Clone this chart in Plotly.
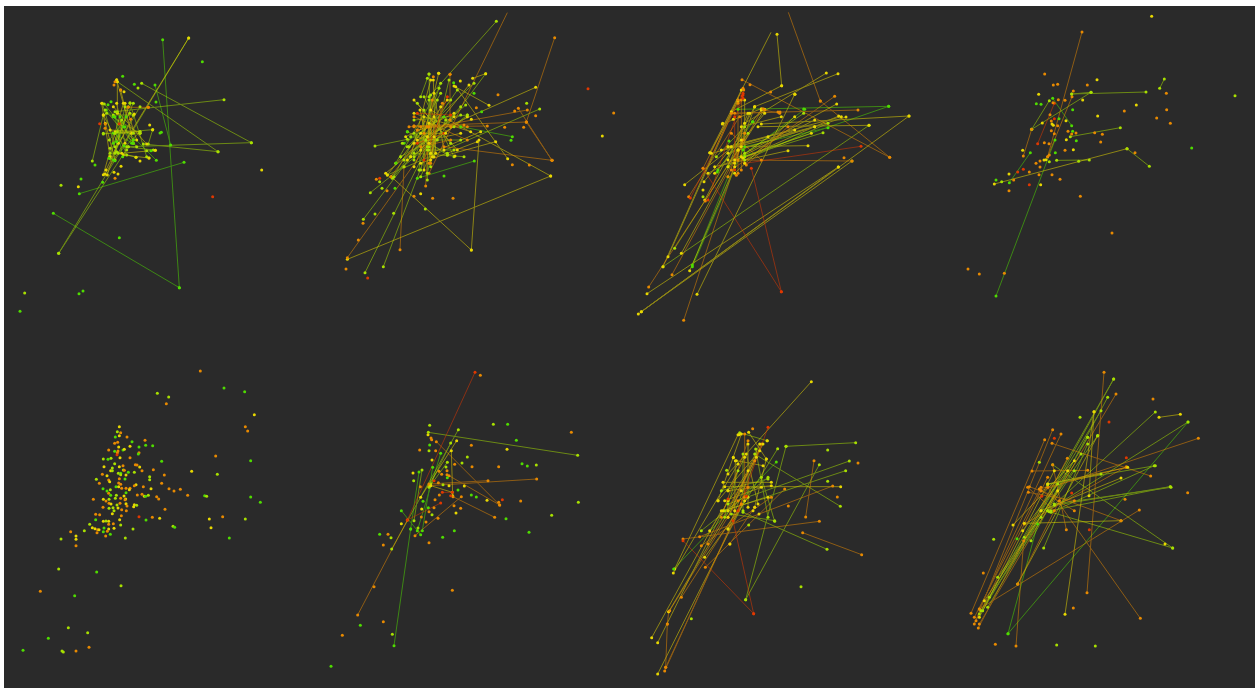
import plotly.graph_objects as go
from plotly.subplots import make_subplots

# Level of each point: 0 green, 1 lime, 2 yellow, 3 orange, 4 red
PALETTE = ["#4fdc00", "#a8e000", "#e8d800", "#e88a00", "#e03800"]
LINE_OPACITY = 0.52
BACKGROUND = "#2a2a2a"

# Segment ends with no dot (the line runs out of view in the picture)
OPEN_ENDS = {(580, 38), (481, 37), (429, 97)}

P1_DOTS = [(607,185,0),(785,510,2),(638,590,4),(358,713,0),(74,879,1),(249,873,0),(237,881,0),(60,934,0),(183,556,1),(235,560,2),(243,537,0),(285,495,0),(308,547,0),(345,535,3),(354,522,2),(342,517,2),(363,499,2),(368,229,0),(403,253,0),(342,255,3),(345,245,3),(350,239,2),(299,371,4),(358,371,4),(468,306,0),(480,399,0),(484,397,0),(449,375,2),(333,305,0),(324,314,0),(420,483,2),(447,474,2),(466,451,2),(458,389,2),(445,322,3),(403,342,2),(392,358,3),(414,264,1),(372,275,2),(362,270,3),(390,308,1),(310,345,2),(316,372,3),(315,385,3),(330,445,1),(327,475,0),(345,482,0),(408,472,2),(453,452,0),(440,452,1),(372,437,0),(400,420,0),(350,425,0),(375,380,0),(340,350,0),(352,335,1)]
P1_SEGS = [(488,119,538,863,0),(538,863,160,640,0),(566,114,176,760,1),(566,114,315,522,2),(176,760,385,440,1),(425,250,754,428,1),(352,245,654,455,1),(754,428,385,440,1),(654,455,430,432,1),(672,299,345,335,1),(552,487,238,581,0),(465,255,512,435,0),(277,483,310,345,1),(352,245,352,340,2),(350,240,395,400,2),(362,270,400,430,2),(307,310,345,440,1),(313,312,400,420,1),(319,330,469,481,0),(310,402,458,389,1),(345,395,420,400,2),(322,525,385,320,2),(310,524,370,310,2),(318,510,400,345,2),(316,370,345,480,2),(330,475,420,320,1),(365,460,466,451,2),(370,465,447,474,2),(350,455,408,472,1),(380,440,460,450,1),(445,432,458,389,1),(340,480,378,350,0),(345,350,368,470,0),(375,320,345,460,1),(375,310,410,420,2),(340,345,400,345,1),(330,390,420,395,2),(328,420,390,340,1),(352,395,380,465,1),(400,430,340,400,0),(360,350,395,430,0),(315,330,410,440,1),(330,470,365,360,1),(350,310,375,430,2),(385,322,445,322,3),(310,345,355,430,2),(355,460,420,395,1),(340,430,370,380,0),(305,310,330,470,2),(320,340,420,400,1),(330,460,400,310,1),(340,320,440,432,2),(390,310,440,470,1),(345,400,380,450,1),(310,400,400,400,1)]

P2_DOTS = [(822,266,4),(899,339,3),(865,408,2),(552,284,3),(638,310,1),(602,333,3),(665,347,3),(629,382,3),(572,382,3),(595,494,3),(646,495,3),(591,421,0),(390,528,0),(246,489,0),(187,538,3),(197,535,4),(197,545,1),(239,640,1),(183,642,1),(147,670,3),(133,720,3),(96,807,3),(161,834,4),(334,627,1),(356,595,3),(417,595,3),(320,581,2),(300,589,3),(204,565,1),(243,565,0),(219,572,3),(423,468,2),(503,335,0),(487,323,3),(480,280,0),(419,248,0),(439,243,2),(408,223,3),(358,230,3),(374,220,2),(345,222,1),(300,380,3),(280,395,0),(265,430,1),(260,470,1),(472,358,2)]
P2_SEGS = [(547,64,345,290,1),(580,38,345,520,3),(722,113,637,366,3),(637,366,714,481,3),(613,325,714,481,3),(714,481,390,440,3),(665,262,310,420,2),(677,327,220,525,1),(640,330,310,390,3),(637,366,300,378,3),(710,528,350,330,2),(710,528,100,778,2),(100,773,345,430,3),(472,750,495,420,2),(472,750,232,530,2),(258,749,270,500,3),(153,818,340,440,1),(208,800,345,440,1),(148,658,290,470,1),(169,578,460,345,1),(183,438,280,418,1),(595,410,440,380,0),(481,483,310,535,0),(515,221,345,450,1),(515,221,476,235,2),(581,476,425,260,2),(525,316,420,258,2),(335,558,345,380,3),(408,223,408,360,3),(320,290,340,235,1),(345,222,350,460,1),(374,220,320,450,2),(358,240,365,460,2),(380,250,300,480,1),(465,255,340,410,2),(480,250,280,440,1),(455,315,270,480,1),(410,300,240,530,1),(460,350,280,480,2),(410,345,310,340,4),(450,375,300,378,3),(520,378,320,380,3),(500,395,350,460,2),(545,425,400,465,2),(490,425,320,490,2),(470,395,300,340,2),(400,465,300,400,1),(350,285,350,500,1),(345,300,340,540,1),(360,350,355,470,2),(310,310,410,430,1),(318,330,350,480,2),(280,395,400,460,1),(285,440,440,345,1),(270,430,390,350,0),(260,470,420,380,1),(300,430,440,400,2),(330,350,330,510,2),(370,300,320,510,1),(385,310,345,490,3),(390,400,310,430,4),(410,420,320,440,3),(220,525,400,300,2),(235,535,380,280,1),(245,490,375,265,1),(300,360,460,345,1),(335,420,440,420,1),(345,370,345,430,2),(340,380,410,380,3),(320,400,395,400,2),(360,410,360,470,2),(340,450,420,450,1),(290,410,370,420,1),(315,510,330,330,1),(320,530,395,360,1),(350,490,355,300,3),(300,350,460,420,3),(380,320,300,500,2),(430,270,270,500,1),(350,240,290,470,2),(405,240,340,520,1),(330,290,420,470,1),(300,300,430,450,2),(285,380,460,380,3),(275,410,420,340,2),(400,290,330,480,4),(360,280,390,450,2),(440,320,300,470,1),(300,460,450,470,1),(230,530,330,400,3),(215,520,420,350,2)]

P3_DOTS = [(366,254,3),(428,276,3),(501,283,2),(648,473,3),(284,370,2),(316,358,2),(405,326,3),(456,336,3),(527,327,0),(303,423,0),(268,516,0),(325,526,3),(373,365,0),(345,295,4),(342,288,4),(225,570,2),(225,590,1),(232,603,3),(347,270,3),(330,310,3)]
P3_SEGS = [(481,37,577,303,3),(429,97,245,458,2),(447,103,461,257,2),(461,257,310,335,2),(577,303,785,472,3),(342,239,785,472,3),(782,319,330,328,0),(782,319,350,468,0),(843,348,400,372,2),(843,348,40,935,2),(672,483,40,935,2),(672,483,330,480,3),(631,501,57,881,2),(631,501,31,942,2),(699,439,350,490,4),(723,376,105,800,1),(723,376,390,380,2),(690,330,320,340,3),(654,351,300,460,2),(630,221,380,320,2),(595,219,350,370,2),(620,289,310,510,3),(626,312,240,520,2),(600,383,350,440,0),(585,398,350,470,1),(540,437,310,440,2),(480,452,260,500,2),(460,875,370,505,4),(460,875,225,505,4),(207,883,500,283,2),(167,961,345,420,3),(62,861,330,450,3),(105,800,340,270,2),(120,770,330,300,2),(132,824,400,330,3),(193,800,345,450,0),(193,795,300,530,0),(185,812,320,500,2),(170,554,340,420,2),(182,590,335,350,3),(187,594,345,280,4),(230,600,380,320,2),(228,545,400,330,2),(283,372,400,326,2),(246,458,330,305,2),(160,760,330,450,2),(140,745,360,400,1),(225,505,345,265,3),(240,600,345,285,4),(300,500,530,328,0),(350,460,527,340,1),(340,470,560,360,2),(345,475,632,348,2),(330,450,560,380,2),(350,480,600,370,1),(320,520,500,350,2),(355,495,480,380,3),(310,340,450,336,3),(340,440,410,328,2),(320,490,380,320,2),(300,480,360,340,2),(260,520,410,340,2),(270,510,375,365,0),(340,510,340,300,3),(330,300,330,520,3),(320,350,320,510,4),(350,300,350,490,2),(365,340,300,500,2),(280,450,420,410,2),(250,460,560,380,2),(300,440,640,350,2),(265,470,350,380,1),(340,380,460,350,2),(310,400,400,480,3),(350,400,300,530,3),(410,330,455,340,3),(300,440,500,390,2),(320,480,550,400,2)]

P4_DOTS = [(632,49,2),(882,287,1),(468,239,2),(311,222,3),(337,255,3),(350,253,3),(439,255,3),(397,273,3),(293,283,2),(676,280,3),(372,301,3),(352,299,3),(425,300,2),(286,311,0),(300,313,0),(336,308,3),(395,329,0),(586,315,2),(677,329,3),(550,333,3),(470,348,2),(327,344,3),(340,356,4),(354,356,0),(647,354,3),(688,370,3),(304,369,2),(331,363,3),(333,372,2),(337,376,2),(350,377,3),(375,362,2),(331,392,3),(340,401,3),(381,394,3),(395,394,0),(405,399,3),(392,402,3),(461,398,3),(484,403,3),(376,419,2),(406,422,0),(310,428,3),(324,431,3),(479,426,3),(245,451,2),(372,451,3),(397,449,2),(343,458,0),(752,444,0),(582,458,3),(413,484,1),(315,479,2),(309,480,2),(325,465,3),(297,483,3),(285,490,3),(297,501,3),(265,516,3),(230,516,4),(247,508,4),(204,522,2),(333,524,3),(294,524,3),(357,538,3),(218,540,3),(165,540,0),(182,545,1),(265,554,4),(299,554,2),(204,572,3),(418,589,3),(513,699,3),(81,807,3),(115,822,3),(190,820,3),(325,485,1)]
P4_SEGS = [(423,96,320,470,3),(165,888,342,420,0),(393,290,320,470,3),(340,310,290,431,4),(615,276,392,282,1),(392,282,450,277,1),(450,277,272,388,1),(272,388,325,302,1),(272,388,247,468,3),(335,295,392,377,0),(268,458,205,548,0),(656,265,670,237,1),(538,383,388,410,1),(558,446,160,552,2),(558,446,625,499,1),(347,481,445,480,1)]

P5_DOTS = [(601,81,3),(672,132,0),(734,143,0),(472,148,1),(506,159,1),(499,179,3),(763,212,2),(736,248,3),(743,261,3),(358,248,2),(352,263,1),(362,266,3),(358,275,2),(346,279,0),(381,279,3),(435,289,3),(396,293,0),(353,295,3),(344,298,3),(437,304,0),(458,305,0),(390,307,2),(356,309,2),(417,309,0),(326,318,3),(344,322,0),(354,321,3),(369,318,0),(373,316,2),(417,326,3),(415,330,0),(352,326,3),(351,332,4),(647,336,3),(310,345,1),(324,346,0),(333,343,1),(360,341,2),(390,341,3),(752,350,0),(485,352,0),(344,359,1),(369,365,3),(406,362,3),(411,363,3),(312,368,2),(358,368,2),(419,369,2),(337,372,1),(332,380,2),(337,380,1),(370,378,1),(373,379,3),(460,377,3),(575,382,2),(385,385,0),(403,385,1),(426,380,3),(355,388,1),(362,388,0),(362,392,1),(378,393,2),(307,391,3),(321,395,2),(493,393,3),(652,391,1),(449,398,1),(289,406,1),(358,404,3),(375,405,0),(449,407,1),(326,408,3),(329,413,2),(298,418,3),(356,417,3),(362,421,3),(485,418,3),(408,422,2),(403,425,3),(348,428,0),(356,428,2),(430,428,3),(309,434,0),(365,433,3),(378,433,3),(390,433,3),(388,437,2),(453,434,2),(507,434,3),(522,441,3),(541,436,3),(321,441,0),(331,437,1),(326,448,3),(378,446,0),(332,454,0),(349,454,1),(372,456,2),(412,453,3),(426,451,3),(433,457,2),(437,457,0),(445,454,1),(470,458,3),(563,454,3),(614,455,0),(620,457,1),(752,459,0),(280,466,3),(310,466,2),(318,471,3),(327,466,1),(346,463,1),(362,463,3),(377,465,2),(375,467,3),(476,465,3),(781,475,0),(327,478,3),(333,480,2),(351,483,1),(360,478,3),(378,479,2),(381,486,3),(403,482,2),(410,484,1),(401,488,2),(309,490,3),(327,493,1),(339,491,1),(354,492,2),(365,497,3),(379,500,3),(342,500,1),(495,496,3),(337,509,2),(287,511,3),(299,512,3),(364,515,3),(417,518,4),(457,520,3),(479,523,2),(628,525,2),(668,518,3),(736,525,1),(287,527,0),(310,532,2),(318,531,1),(326,532,2),(359,527,2),(438,528,0),(326,541,3),(340,539,3),(362,543,1),(269,541,1),(277,551,2),(285,554,2),(293,557,3),(297,557,2),(312,552,0),(326,555,2),(342,553,2),(399,555,1),(519,547,1),(524,550,0),(633,551,2),(253,560,1),(212,563,3),(291,566,3),(310,563,0),(322,562,3),(331,571,0),(317,576,3),(228,576,2),(183,585,1),(228,586,2),(376,582,1),(688,582,0),(228,605,3),(176,675,1),(290,684,0),(363,725,1),(121,742,3),(224,755,0),(205,851,1),(263,866,1),(145,883,0),(69,919,0),(186,921,1),(190,924,1),(228,921,3),(267,910,3)]
P5_SEGS = []

P6_DOTS = [(499,94,3),(347,244,1),(538,241,1),(581,241,0),(772,265,3),(342,272,2),(351,282,3),(353,287,3),(607,289,0),(472,304,3),(347,303,0),(345,320,1),(317,318,3),(365,320,3),(579,316,2),(460,339,1),(354,348,2),(444,357,1),(422,361,3),(474,368,3),(554,368,3),(624,359,0),(640,366,0),(667,363,1),(396,369,1),(375,382,3),(399,380,3),(383,391,3),(399,392,3),(297,387,2),(400,401,0),(299,410,1),(360,410,4),(373,416,3),(387,422,1),(405,425,2),(451,426,2),(319,428,3),(432,438,0),(363,467,3),(376,453,3),(472,453,0),(487,459,0),(519,469,2),(554,475,3),(565,467,4),(620,471,3),(793,475,1),(420,485,3),(440,493,3),(426,507,2),(354,512,1),(345,503,3),(322,519,3),(372,523,3),(576,524,0),(713,514,1),(262,539,2),(336,534,3),(312,552,1),(421,560,0),(197,571,0),(222,571,3),(231,581,1),(386,580,0),(645,565,0),(345,596,3),(208,603,3),(180,728,3),(415,739,3),(208,833,3),(139,844,0),(85,874,3),(235,871,1),(51,967,0),(327,472,0),(323,495,2),(343,491,0),(360,491,3),(410,455,4)]
P6_SEGS = [(483,85,280,528,4),(280,528,131,813,3),(343,265,791,334,1),(433,257,233,615,1),(240,905,290,555,0),(290,555,315,384,0),(410,297,350,420,1),(345,425,668,405,3),(345,420,522,410,3),(412,320,416,455,2),(367,293,557,483,3),(405,395,557,483,3),(417,458,542,520,3),(442,458,303,575,3),(380,477,280,528,4),(262,500,320,572,0),(324,378,300,530,1),(380,328,310,560,0),(356,370,325,560,0),(428,290,320,460,2),(400,355,345,430,1),(350,425,415,445,2),(385,445,415,445,4)]

P7_DOTS = [(374,254,3),(690,357,3),(599,318,1),(296,379,1),(628,459,3),(599,412,1),(519,728,1),(190,824,1),(316,340,2),(418,290,2),(375,500,2),(393,510,2),(362,543,1),(300,465,4),(355,457,4),(333,272,2),(316,341,2),(306,600,2),(481,486,3)]
P7_SEGS = [(550,113,300,390,2),(420,250,330,500,4),(330,272,140,675,2),(335,266,417,290,1),(362,265,415,345,2),(683,296,474,307,1),(474,307,353,767,1),(449,314,300,555,1),(445,354,137,675,0),(664,351,300,480,1),(653,380,290,500,1),(574,362,353,767,1),(558,350,533,519,3),(637,487,380,330,1),(597,616,345,505,1),(701,632,524,566,3),(638,428,290,428,2),(614,426,215,578,3),(574,532,165,585,3),(377,809,165,590,4),(377,809,315,530,4),(71,881,280,500,2),(89,896,300,470,2),(89,990,350,470,2),(110,981,360,430,3),(113,970,340,480,3),(118,840,113,970,3),(122,803,118,840,3),(122,803,340,440,2),(232,670,470,435,3),(220,605,430,460,3),(305,600,380,490,3),(136,687,330,360,2),(285,415,430,415,2),(270,470,395,320,2),(300,555,385,340,2),(320,500,322,350,2),(345,500,345,330,1),(360,490,360,300,2),(400,300,300,520,3),(280,440,420,405,1),(430,425,300,440,2),(310,510,440,530,1),(383,315,420,520,1),(415,345,380,490,2),(355,330,390,480,2),(350,270,350,460,3),(325,350,405,365,2),(290,470,400,430,2),(330,380,290,520,1),(440,532,400,400,1),(245,560,360,380,2),(405,300,300,500,2),(300,520,395,300,2),(270,470,340,270,2),(280,520,360,290,3),(300,440,350,340,2),(240,600,380,350,3),(230,640,360,460,2),(160,760,340,480,3),(125,800,330,470,3),(220,560,420,400,1),(285,500,420,460,2)]

P8_DOTS = [(636,165,3),(504,234,4),(417,220,1),(556,341,4),(295,355,1),(340,283,4),(740,446,3),(552,466,3),(445,557,4),(158,586,1),(228,584,0),(127,687,3),(397,792,3),(163,901,3),(347,903,1),(463,906,1),(302,457,4),(392,447,4),(470,275,1),(672,600,2)]
P8_SEGS = [(489,85,438,746,3),(518,105,115,810,1),(518,105,300,500,1),(525,150,115,840,3),(335,257,100,840,3),(311,287,90,808,3),(360,270,115,795,3),(379,343,112,852,3),(459,203,372,811,2),(459,203,444,455,2),(643,204,320,500,1),(654,220,718,211,2),(741,234,201,869,0),(741,234,320,500,1),(772,283,300,440,3),(643,365,320,420,1),(688,428,330,500,1),(688,428,340,484,1),(540,402,300,500,2),(556,368,250,540,3),(629,396,333,298,3),(595,498,115,795,3),(540,530,250,538,2),(540,530,265,428,3),(695,612,325,503,1),(695,612,335,362,1),(598,823,320,430,3),(273,381,440,379,3),(225,906,248,590,3),(201,869,290,540,0),(470,275,230,720,2),(230,720,355,470,3),(308,612,440,300,1),(216,543,400,350,2),(376,557,335,362,3),(262,445,400,470,3),(295,435,555,370,3),(320,422,480,390,1),(300,520,440,280,1),(245,560,380,380,2),(100,820,300,430,3),(105,830,320,400,3),(115,820,340,380,2),(125,800,350,420,1),(130,770,350,440,2),(145,760,400,380,1),(120,800,420,330,1),(140,790,440,280,1),(170,700,470,275,1),(270,590,500,160,1),(250,580,480,200,1),(260,430,340,500,3),(300,440,400,500,3),(320,420,560,370,2),(340,480,690,430,1),(330,505,640,365,1)]

PANELS = [
    (P1_DOTS, P1_SEGS), (P2_DOTS, P2_SEGS), (P3_DOTS, P3_SEGS), (P4_DOTS, P4_SEGS),
    (P5_DOTS, P5_SEGS), (P6_DOTS, P6_SEGS), (P7_DOTS, P7_SEGS), (P8_DOTS, P8_SEGS),
]
# Each panel's visible window, in the same reading units as its data
X_START = [12, 8.25, 4.5, 3.75]
Y_START = [18, 9]
X_SPAN = 938.25
Y_SPAN = 1023

fig = make_subplots(rows=2, cols=4, horizontal_spacing=0, vertical_spacing=0)

for i, (dots, segs) in enumerate(PANELS):
    row, col = i // 4 + 1, i % 4 + 1
    for level, colour in enumerate(PALETTE):
        xs, ys = [], []
        for x0, y0, x1, y1, v in segs:
            if v == level:
                xs += [x0, x1, None]
                ys += [y0, y1, None]
        if xs:
            fig.add_trace(go.Scatter(x=xs, y=ys, mode="lines", opacity=LINE_OPACITY,
                                     line=dict(color=colour, width=1), hoverinfo="skip"),
                          row=row, col=col)
    px, py, pc = [], [], []
    for x0, y0, x1, y1, v in segs:
        for x, y in ((x0, y0), (x1, y1)):
            if (x, y) not in OPEN_ENDS:
                px.append(x); py.append(y); pc.append(PALETTE[v])
    for x, y, v in dots:
        px.append(x); py.append(y); pc.append(PALETTE[v])
    fig.add_trace(go.Scatter(x=px, y=py, mode="markers",
                             marker=dict(color=pc, size=3, line=dict(width=0)),
                             hoverinfo="skip"), row=row, col=col)
    fig.update_xaxes(range=[X_START[i % 4], X_START[i % 4] + X_SPAN], visible=False, row=row, col=col)
    fig.update_yaxes(range=[Y_START[i // 4] + Y_SPAN, Y_START[i // 4]], visible=False, row=row, col=col)

fig.update_layout(
    width=1255, height=688, autosize=False, showlegend=False,
    margin=dict(l=4, t=6, r=0, b=0, pad=0),
    paper_bgcolor="white", plot_bgcolor=BACKGROUND,
    shapes=[dict(type="rect", xref="paper", yref="paper", x0=0, x1=1, y0=0, y1=1,
                 fillcolor=BACKGROUND, line=dict(width=0), layer="below")],
)
fig.write_html("out.html", config={"displayModeBar": False},
               post_script="document.body.style.margin='0';document.body.style.overflow='hidden';")
